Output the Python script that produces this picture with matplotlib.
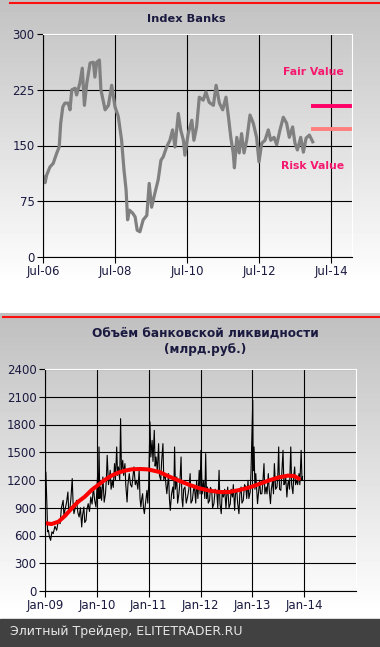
import numpy as np
import matplotlib
matplotlib.use("Agg")
import matplotlib.pyplot as plt
from matplotlib.lines import Line2D
from matplotlib.patches import Rectangle

# ---------------- Index Banks (months since Jul-06) ----------------
banks_month = [0.1, 0.7, 1.2, 2.3, 3.4, 4.6, 5.4, 5.9, 6.6, 7.3, 8.4, 9.0, 9.6, 10.7, 11.2,
               12.3, 13.1, 13.8, 14.6, 15.7, 16.8, 17.3, 17.9, 18.8, 19.3, 20.7, 21.8, 22.9,
               24.0, 25.1, 26.2, 27.0, 27.7, 28.2, 28.8, 29.9, 30.7, 31.4, 32.3, 33.4, 34.6,
               35.4, 36.2, 37.3, 38.4, 39.3, 40.1, 41.2, 42.3, 43.2, 44.0, 45.1, 45.9, 46.8,
               47.3, 48.4, 49.6, 50.3, 51.2, 52.1, 53.4, 54.3, 55.4, 56.8, 57.7, 58.8, 59.9,
               61.0, 61.8, 62.6, 63.4, 63.8, 64.6, 65.4, 66.2, 67.0, 67.9, 69.0, 70.1, 71.2,
               72.0, 72.9, 74.0, 75.1, 75.9, 77.0, 77.9, 79.0, 80.1, 81.2, 82.1, 83.2, 84.0,
               84.8, 85.9, 86.8, 87.7, 88.8, 89.9]
banks_value = [108, 100, 110, 121, 126, 140, 148, 180, 202, 207, 207, 198, 225, 227, 218,
               234, 254, 204, 234, 261, 262, 242, 262, 265, 225, 198, 204, 231,
               202, 189, 157, 117, 90, 50, 63, 59, 54, 36, 34, 50, 56,
               99, 67, 86, 104, 130, 135, 148, 157, 171, 148, 193, 171, 157,
               137, 166, 184, 157, 175, 215, 211, 222, 208, 204, 231, 207, 198,
               215, 189, 161, 140, 120, 161, 140, 166, 140, 157, 191, 180, 161,
               128, 153, 157, 171, 157, 161, 151, 171, 188, 180, 161, 175, 153,
               144, 161, 141, 160, 164, 155]
fair_value = 203
risk_value = 172
banks_ticks = [0, 24, 48, 72, 96]
banks_labels = ["Jul-06", "Jul-08", "Jul-10", "Jul-12", "Jul-14"]
banks_yticks = [0, 75, 150, 225, 300]

# ---------------- bank liquidity (months since Jan-09) ----------------
liq_month = [0.1, 0.2, 0.5, 0.6, 0.8, 1.0, 1.3, 1.6, 1.9, 2.3,
             2.7, 3.1, 3.5, 3.8, 4.2, 4.4, 4.6, 5.0, 5.3, 5.5,
             5.8, 6.0, 6.3, 6.5, 6.7, 7.0, 7.3, 7.6, 7.9, 8.2,
             8.5, 8.7, 9.0, 9.2, 9.5, 9.7, 10.0, 10.3, 10.6, 10.9,
             11.2, 11.5, 11.8, 12.0, 12.2, 12.35, 12.5, 12.7, 12.9, 13.1,
             13.4, 13.7, 14.0, 14.2, 14.4, 14.7, 15.1, 15.3, 15.6, 15.8,
             16.1, 16.3, 16.6, 16.8, 17.0, 17.3, 17.5, 17.7, 18.0, 18.2,
             18.5, 18.7, 19.0, 19.2, 19.5, 19.8, 20.1, 20.4, 20.6, 20.9,
             21.2, 21.5, 21.8, 22.0, 22.2, 22.4, 22.6, 22.8, 23.0, 23.3,
             23.6, 23.8, 24.0, 24.3, 24.5, 24.8, 25.0, 25.3, 25.5, 25.7,
             26.0, 26.3, 26.5, 26.8, 27.0, 27.3, 27.5, 27.8, 28.0, 28.2,
             28.4, 28.6, 28.8, 29.0, 29.3, 29.6, 29.8, 30.0, 30.2, 30.5,
             30.7, 31.0, 31.2, 31.5, 31.7, 31.9, 32.1, 32.4, 32.7, 33.0,
             33.3, 33.6, 33.8, 34.1, 34.4, 34.6, 34.9, 35.1, 35.4, 35.7,
             35.9, 36.1, 36.4, 36.7, 37.0, 37.2, 37.4, 37.6, 37.8, 38.1,
             38.3, 38.6, 38.8, 39.1, 39.4, 39.8, 40.0, 40.3, 40.5, 40.8,
             41.0, 41.3, 41.6, 41.9, 42.1, 42.3, 42.6, 42.9, 43.1, 43.4,
             43.6, 43.9, 44.1, 44.4, 44.6, 44.9, 45.1, 45.4, 45.6, 45.9,
             46.2, 46.5, 46.7, 47.0, 47.2, 47.5, 47.7, 47.9, 48.1, 48.2,
             48.4, 48.6, 48.8, 49.0, 49.2, 49.5, 49.7, 49.9, 50.2, 50.4,
             50.7, 50.9, 51.2, 51.4, 51.7, 51.9, 52.2, 52.4, 52.7, 52.9,
             53.1, 53.4, 53.7, 53.9, 54.1, 54.3, 54.6, 54.8, 55.1, 55.3,
             55.5, 55.7, 56.0, 56.2, 56.4, 56.6, 56.9, 57.1, 57.4, 57.6,
             57.8, 58.0, 58.3, 58.5, 58.8, 59.0, 59.3, 59.5, 59.6]
liq_value = [1000, 1287, 840, 640, 656, 590, 548, 640, 620, 700,
             656, 760, 728, 900, 980, 800, 872, 960, 1070, 850,
             908, 1000, 1215, 950, 836, 900, 980, 850, 800, 900,
             692, 820, 908, 740, 764, 880, 944, 860, 1016, 940,
             1124, 980, 908, 1080, 1269, 1000, 1557, 1000, 1124, 980,
             1233, 960, 1052, 1200, 1467, 1150, 1305, 1100, 1197, 1120,
             1377, 1200, 1557, 1250, 1341, 1200, 1863, 1300, 1413, 1250,
             1377, 1150, 962, 1150, 1269, 1150, 1124, 1250, 1341, 1150,
             1197, 1100, 1305, 1000, 908, 1000, 1052, 900, 836, 960,
             1088, 950, 1142, 1827, 1450, 1629, 1400, 1737, 1350, 1449,
             1300, 1593, 1250, 1197, 1400, 1593, 1200, 1269, 1150, 1052,
             1150, 1269, 1000, 872, 1050, 1124, 1000, 1557, 1100, 1233,
             950, 1052, 1150, 1449, 1000, 908, 1100, 1124, 950, 1016,
             1100, 1269, 950, 980, 1100, 1124, 950, 1197, 1000, 1305,
             1050, 1521, 1050, 1197, 1000, 1485, 1000, 1124, 950, 980,
             1120, 1088, 900, 944, 1100, 1052, 900, 1305, 950, 836,
             1050, 1016, 1100, 890, 1050, 1124, 900, 944, 1100, 1016,
             1150, 872, 1050, 1088, 950, 836, 1050, 1124, 950, 980,
             1150, 1124, 1000, 1197, 1000, 1070, 1300, 1701, 2061, 1300,
             1557, 1100, 1269, 1100, 944, 1100, 1197, 1050, 1052, 1150,
             1377, 1050, 1124, 1050, 1269, 1100, 944, 1100, 1197, 1050,
             1377, 1100, 1124, 1250, 1557, 1100, 1088, 1250, 1521, 1150,
             1160, 1250, 1016, 1150, 1197, 1100, 1557, 1150, 1052, 1250,
             1341, 1150, 1197, 1150, 1269, 1150, 1521, 1200, 1233]
trend_month = [0.2, 1.5, 3.1, 4.6, 6.2, 7.7, 9.2, 10.8, 12.3, 13.8, 15.4, 16.9, 18.5, 20.0,
               21.9, 23.8, 26.4, 28.8, 31.2, 33.5, 35.8, 38.1, 40.4, 42.7, 45.0, 47.3, 49.6,
               51.9, 54.2, 56.2, 57.7, 58.8]
trend_value = [732, 724, 749, 811, 894, 966, 1019, 1092, 1146, 1200, 1247, 1279, 1301, 1315,
               1319, 1315, 1288, 1236, 1189, 1146, 1110, 1084, 1070, 1070, 1092, 1119, 1157,
               1196, 1229, 1247, 1243, 1214]
liq_ticks = [0, 12, 24, 36, 48, 60]
liq_labels = ["Jan-09", "Jan-10", "Jan-11", "Jan-12", "Jan-13", "Jan-14"]
liq_yticks = list(range(0, 2401, 300))

W, H = 380, 647
TXT = '#1a1a40'

fig = plt.figure(figsize=(W / 100, H / 100), dpi=100)

# background: grey-to-white gradient behind each panel
shade = np.ones(H)
r = np.arange(0, 297)
shade[r] = 0.76 + 0.24 * np.clip(r / 285.0, 0, 1)
r = np.arange(313, 619)
shade[r] = 0.75 + 0.25 * np.clip((r - 313) / 300.0, 0, 1)
bg = fig.add_axes([0, 0, 1, 1], zorder=-10)
bg.imshow(np.repeat(shade[:, None], W, axis=1), cmap='gray', vmin=0, vmax=1,
          aspect='auto', extent=[0, W, H, 0], interpolation='nearest')
bg.add_patch(Rectangle((0, 619), W, 28, color='#414141'))
bg.set_xlim(0, W)
bg.set_ylim(H, 0)
bg.axis('off')

# red rules on top of each panel
fig.add_artist(Line2D([10 / W, 1], [1 - 3 / H, 1 - 3 / H], color='#ff1010', lw=1.5))
fig.add_artist(Line2D([3 / W, 1], [1 - 317 / H, 1 - 317 / H], color='#ff1010', lw=1.5))


def style(ax):
    ax.set_facecolor('none')
    ax.set_axisbelow(True)
    ax.spines['top'].set_color('white')
    ax.spines['right'].set_color('white')
    ax.spines['left'].set_color('black')
    ax.spines['bottom'].set_color('black')
    for s in ax.spines.values():
        s.set_linewidth(0.8)
    ax.grid(True, color='black', lw=0.8)
    ax.tick_params(direction='out', length=4, width=0.8, color='black',
                   labelsize=8.5, labelcolor=TXT, pad=2)


# ---------------- top chart ----------------
ax1 = fig.add_axes([43 / W, 1 - 257 / H, 309 / W, 223 / H])
style(ax1)
ax1.plot(banks_month, banks_value, color='#808080', lw=2.3, solid_joinstyle='round')
ax1.axhline(fair_value, xmin=0.867, xmax=1, color='#ff0066', lw=2.8, solid_capstyle='butt')
ax1.axhline(risk_value, xmin=0.867, xmax=1, color='#ff7f7f', lw=2.8, solid_capstyle='butt')
ax1.text(90, 249, 'Fair Value', ha='center', va='center', color='#f5186e',
         fontsize=7.8, fontweight='bold')
ax1.text(90, 122, 'Risk Value', ha='center', va='center', color='#f5186e',
         fontsize=7.8, fontweight='bold')
ax1.set_xlim(0, 103)
ax1.set_ylim(0, 300)
ax1.set_xticks(banks_ticks)
ax1.set_xticklabels(banks_labels)
ax1.set_yticks(banks_yticks)
fig.text(186 / W, 1 - 19 / H, 'Index Banks', ha='center', va='center', color=TXT,
         fontsize=8.2, fontweight='bold')

# ---------------- bottom chart ----------------
ax2 = fig.add_axes([45 / W, 1 - 591 / H, 311 / W, 222 / H])
style(ax2)
ax2.plot(liq_month, liq_value, color='black', lw=0.8)
ax2.plot(trend_month, trend_value, color='#ff0000', lw=2.9, solid_capstyle='round')
ax2.set_xlim(0, 72)
ax2.set_ylim(0, 2400)
ax2.set_xticks(liq_ticks)
ax2.set_xticklabels(liq_labels)
ax2.set_yticks(liq_yticks)
fig.text(205 / W, 1 - 333 / H, 'Объём банковской ликвидности', ha='center', va='center',
         color=TXT, fontsize=8.7, fontweight='bold')
fig.text(205 / W, 1 - 349 / H, '(млрд.руб.)', ha='center', va='center',
         color=TXT, fontsize=8.7, fontweight='bold')

fig.text(10 / W, 1 - 632 / H, 'Элитный Трейдер, ELITETRADER.RU', ha='left', va='center',
         color='#e6e6e6', fontsize=9)

fig.savefig('out.png', dpi=100)
